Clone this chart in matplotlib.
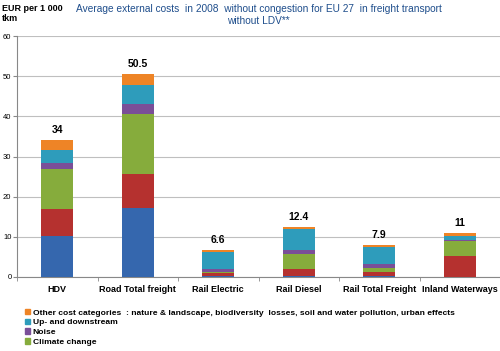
import matplotlib
matplotlib.use("Agg")
import matplotlib.pyplot as plt
from matplotlib.patches import Patch
import numpy as np

plt.rcParams["font.family"] = ["Liberation Sans", "DejaVu Sans"]

categories = ["HDV", "Road Total freight", "Rail Electric", "Rail Diesel",
              "Rail Total Freight", "Inland Waterways"]
accidents = [10.3, 17.1, 0.3, 0.2, 0.2, 0.1]
air_pollution = [6.6, 8.5, 0.8, 1.7, 1.0, 5.2]
climate_change = [10.0, 15.0, 0.1, 3.8, 1.0, 3.7]
noise = [1.6, 2.4, 0.9, 0.9, 1.0, 0.1]
up_downstream = [3.1, 4.8, 4.1, 5.3, 4.3, 1.2]
other = [2.4, 2.7, 0.4, 0.5, 0.4, 0.7]
totals = ["34", "50.5", "6.6", "12.4", "7.9", "11"]
total_values = [34, 50.5, 6.6, 12.4, 7.9, 11]

series = [accidents, air_pollution, climate_change, noise, up_downstream, other]
colors = ["#3567AE", "#B5312F", "#86AC3C", "#7A4F98", "#2E9CBB", "#EE8426"]
legend_labels = [
    "Other cost categories  : nature & landscape, biodiversity  losses, soil and water pollution, urban effects",
    "Up- and downstream",
    "Noise",
    "Climate change",
]

fig = plt.figure(figsize=(5.0, 3.51), dpi=100)
ax = fig.add_axes([0.034, 0.211, 0.966, 0.686])

x = np.arange(len(categories))
bottom = np.zeros(len(categories))
for vals, c in zip(series, colors):
    ax.bar(x, vals, width=0.4, bottom=bottom, color=c, edgecolor="none", zorder=3)
    bottom += np.array(vals)

for xi, t, v in zip(x, totals, total_values):
    ax.text(xi, v + 1.3, t, ha="center", va="bottom", fontsize=7.5, fontweight="bold")

ax.set_xlim(-0.5, len(categories) - 0.5)
ax.set_ylim(0, 60)
ax.set_yticks(range(0, 61, 10))
ax.tick_params(axis="y", labelsize=5.5, length=3, color="#888888", pad=1)
ax.yaxis.grid(True, color="#BFBFBF", linewidth=0.8, zorder=0)
ax.set_xticks(x)
ax.set_xticklabels(categories, fontsize=6.5, fontweight="bold")
ax.tick_params(axis="x", length=0, pad=6)
# dividers between categories
ax.set_xticks(np.arange(-0.5, len(categories), 1.0), minor=True)
ax.tick_params(axis="x", which="minor", length=3, color="#888888")
for s in ["top", "right"]:
    ax.spines[s].set_visible(False)
ax.spines["left"].set_color("#888888")
ax.spines["bottom"].set_color("#888888")

fig.text(0.004, 0.99, "EUR per 1 000\ntkm", ha="left", va="top", fontsize=6.5,
         fontweight="bold", linespacing=1.2)
fig.text(0.517, 0.99, "Average external costs  in 2008  without congestion for EU 27  in freight transport\nwithout LDV**",
         ha="center", va="top", fontsize=7.3, color="#1F4E8C", linespacing=1.25)

handles = [Patch(color=colors[5]), Patch(color=colors[4]), Patch(color=colors[3]), Patch(color=colors[2])]
fig.legend(handles, legend_labels, loc="upper left", bbox_to_anchor=(0.05, 0.12),
           frameon=False, prop={"weight": "bold", "size": 6.1},
           handlelength=0.6, handleheight=0.6, handletextpad=0.3, labelspacing=0.25,
           borderpad=0, borderaxespad=0)

fig.savefig("out.png", dpi=100)
